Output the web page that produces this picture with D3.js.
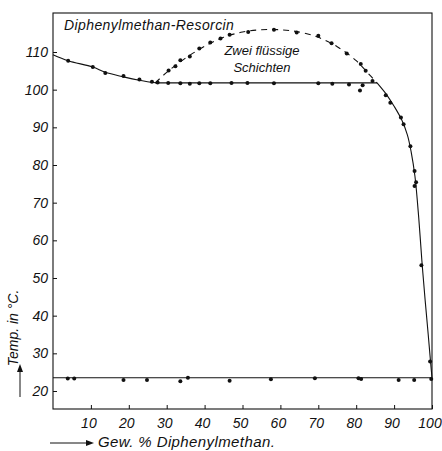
<!DOCTYPE html>
<html>
<head>
<meta charset="utf-8">
<script src="https://cdn.jsdelivr.net/npm/d3@7"></script>
<style>
  body { margin: 0; background: #fff; }
  svg text { font-family: "Liberation Sans", Arial, sans-serif; font-style: italic; fill: #111; }
</style>
</head>
<body>
<div id="chart"></div>
<script>
// tick values
const xTicks = [10, 20, 30, 40, 50, 60, 70, 80, 90, 100];
const yTicks = [20, 30, 40, 50, 60, 70, 80, 90, 100, 110];

// drawn curves (Gew.% Diphenylmethan, Temp °C)
const leftCurve = [[0, 109.3], [4, 107.7], [10.5, 106], [13.8, 104.6], [18.6, 103.4], [22.8, 102.5], [26.5, 101.9], [28, 101.8]];
const flatLine = [[27, 101.8], [85.5, 101.8]];
const domeCurve = [[27, 101.8], [30, 104.6], [35, 108.4], [40, 111.5], [45, 113.9], [50, 115.3], [55, 115.9], [60, 115.9], [65, 115.3], [70, 113.9], [75, 111.4], [80, 107.7], [83, 104.5], [85.5, 101.8]];
const rightCurve = [[85.5, 101.8], [88, 98.7], [90, 95.6], [92, 92], [93.5, 88], [94.5, 83.5], [95.5, 77], [96.5, 66], [97.3, 55], [98.2, 44], [99, 35], [99.6, 28], [100, 23.5]];
const eutLine = [[0, 23.5], [100, 23.5]];

// measured points
const leftPts = [[4, 107.7], [10.5, 106], [13.8, 104.4], [18.6, 103.6], [22.8, 102.7], [26.1, 102.1], [27.6, 101.9]];
const flatPts = [[30.4, 101.8], [33.6, 101.7], [36.1, 101.6], [38.6, 101.7], [41.5, 101.7], [47.1, 101.8], [51.3, 101.8], [58.3, 101.7], [70, 101.7], [73.7, 101.6], [78.1, 101.4], [81.7, 101.2], [81, 99.8]];
const domePts = [[30.5, 105.1], [32.3, 106.2], [33.6, 107.8], [36.1, 108.8], [38.6, 110.9], [41.5, 112.5], [44.2, 113.6], [46.6, 114.6], [51.5, 115.3], [58.3, 115.9], [64.3, 115.2], [70, 114.3], [73.5, 112.3], [77.5, 109.6], [81.2, 106.8], [82.5, 105], [84.3, 102.3]];
const rightPts = [[87.8, 98.5], [89, 96.5], [91.8, 92.6], [92.5, 90.8], [94.3, 85], [95.4, 78.4], [95.8, 75.4], [95.4, 74.4], [97.2, 53.4], [99.5, 27.8]];
const eutPts = [[3.9, 23.3], [5.6, 23.3], [18.6, 22.9], [24.8, 22.9], [33.6, 22.6], [35.6, 23.5], [46.6, 22.7], [57.5, 23.1], [69.1, 23.4], [80.6, 23.4], [81.3, 23.2], [91.2, 22.9], [95.3, 22.9], [99.8, 23.2]];

const totalWidth = 442, totalHeight = 451;
const svg = d3.select("#chart").append("svg")
  .attr("width", totalWidth)
  .attr("height", totalHeight);

const x = d3.scaleLinear().domain([0, 100]).range([53, 432]);
const y = d3.scaleLinear().domain([20, 110]).range([391, 52]);
const plotTop = 13, plotBottom = 409;

// frame
const frame = svg.append("g").attr("stroke", "#111").attr("stroke-width", 1.1).attr("fill", "none");
frame.append("rect")
  .attr("x", x(0)).attr("y", plotTop)
  .attr("width", x(100) - x(0)).attr("height", plotBottom - plotTop);

// y axis ticks (inward)
const yAxis = d3.axisRight(y).tickValues(yTicks).tickSize(4).tickFormat("");
svg.append("g")
  .attr("transform", `translate(${x(0)},0)`)
  .call(yAxis)
  .call(g => g.select(".domain").remove())
  .call(g => g.selectAll("line").attr("stroke", "#111"));
svg.append("g").selectAll("text")
  .data(yTicks)
  .enter().append("text")
    .attr("x", 48)
    .attr("y", d => y(d) + 5)
    .attr("text-anchor", "end")
    .style("font-size", "14px")
    .text(d => d);

// x axis ticks (inward)
const xAxis = d3.axisTop(x).tickValues(xTicks).tickSize(4).tickFormat("");
svg.append("g")
  .attr("transform", `translate(0,${plotBottom})`)
  .call(xAxis)
  .call(g => g.select(".domain").remove())
  .call(g => g.selectAll("line").attr("stroke", "#111"));
svg.append("g").selectAll("text")
  .data(xTicks)
  .enter().append("text")
    .attr("x", d => x(d) - 2)
    .attr("y", 428)
    .attr("text-anchor", "middle")
    .style("font-size", "14px")
    .text(d => d);

// curves
const line = d3.line().x(d => x(d[0])).y(d => y(d[1]));
const smooth = d3.line().x(d => x(d[0])).y(d => y(d[1])).curve(d3.curveCatmullRom);
const curves = svg.append("g").attr("fill", "none").attr("stroke", "#111").attr("stroke-width", 1.1);
curves.append("path").attr("d", smooth(leftCurve));
curves.append("path").attr("d", line(flatLine));
curves.append("path").attr("d", smooth(rightCurve));
curves.append("path").attr("d", line(eutLine));
curves.append("path").attr("d", smooth(domeCurve)).attr("stroke-dasharray", "6,5");

// points
const allPts = [].concat(leftPts, flatPts, domePts, rightPts, eutPts);
svg.append("g").selectAll(".dot")
  .data(allPts)
  .enter().append("circle")
    .attr("class", "dot")
    .attr("r", 2)
    .attr("cx", d => x(d[0]))
    .attr("cy", d => y(d[1]))
    .attr("fill", "#111");

// labels
svg.append("text")
  .attr("x", 64).attr("y", 30)
  .style("font-size", "14px")
  .style("letter-spacing", "0.4px")
  .text("Diphenylmethan-Resorcin");
svg.append("text")
  .attr("x", 262).attr("y", 55)
  .attr("text-anchor", "middle")
  .style("font-size", "13px")
  .text("Zwei flüssige");
svg.append("text")
  .attr("x", 262).attr("y", 72)
  .attr("text-anchor", "middle")
  .style("font-size", "13px")
  .text("Schichten");

// axis titles
svg.append("text")
  .attr("transform", "translate(18,328) rotate(-90)")
  .attr("text-anchor", "middle")
  .style("font-size", "14px")
  .text("Temp. in °C.");
svg.append("line")
  .attr("x1", 20).attr("y1", 397).attr("x2", 20).attr("y2", 368)
  .attr("stroke", "#111").attr("stroke-width", 1);
svg.append("path")
  .attr("d", "M20,364 L17,372 L23,372 Z")
  .attr("fill", "#111");

svg.append("line")
  .attr("x1", 50).attr("y1", 443).attr("x2", 90).attr("y2", 443)
  .attr("stroke", "#111").attr("stroke-width", 1);
svg.append("path")
  .attr("d", "M94,443 L86,440 L86,446 Z")
  .attr("fill", "#111");
svg.append("text")
  .attr("x", 98).attr("y", 447)
  .style("font-size", "15px")
  .style("letter-spacing", "0.4px")
  .text("Gew. % Diphenylmethan.");
</script>
</body>
</html>
